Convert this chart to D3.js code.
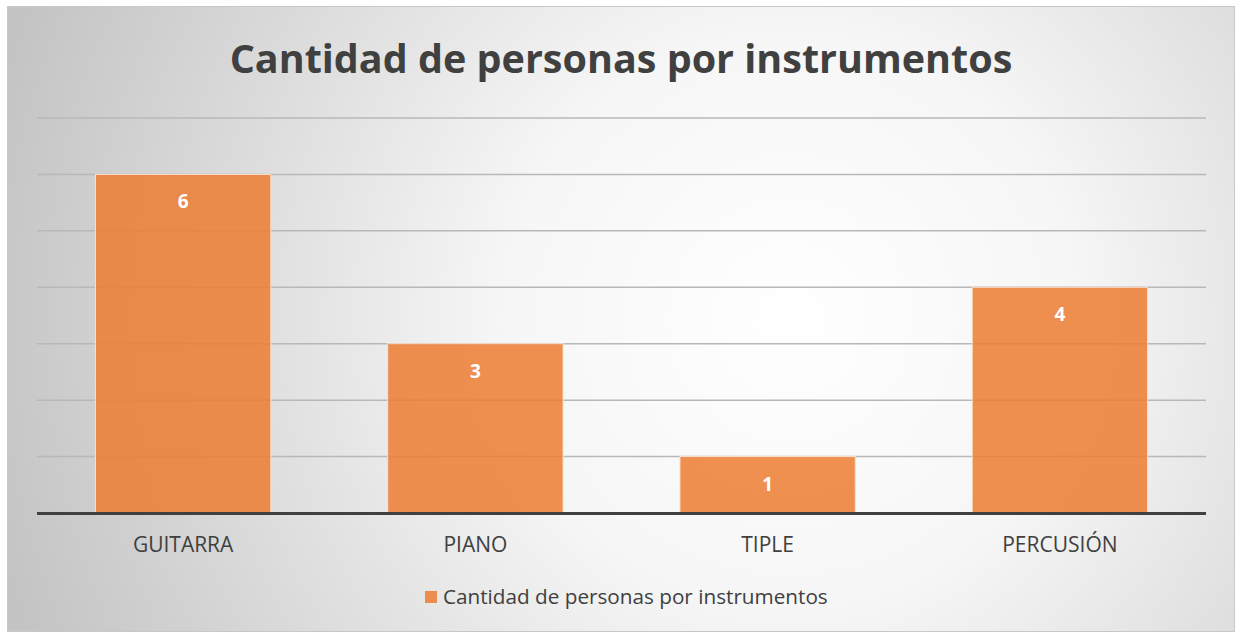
<!DOCTYPE html>
<html><head><meta charset="utf-8">
<script src="https://cdn.jsdelivr.net/npm/d3@7"></script>
<style>html,body{margin:0;padding:0;background:#fff;}svg{display:block;}</style>
</head><body>
<script>
const categories = ["GUITARRA", "PIANO", "TIPLE", "PERCUSIÓN"];
const values = [6, 3, 1, 4];
const yTicks = [0, 1, 2, 3, 4, 5, 6, 7];
const seriesName = "Cantidad de personas por instrumentos";
const title = "Cantidad de personas por instrumentos";

const W = 1235, H = 632;
const svg = d3.select("body").append("svg").attr("width", W).attr("height", H);
const defs = svg.append("defs");
const grad = defs.append("radialGradient").attr("id", "bg")
  .attr("gradientUnits", "userSpaceOnUse")
  .attr("cx", 790).attr("cy", 320).attr("r", 820);
grad.append("stop").attr("offset", "0%").attr("stop-color", "#ffffff");
grad.append("stop").attr("offset", "35%").attr("stop-color", "#f6f6f6");
grad.append("stop").attr("offset", "100%").attr("stop-color", "#c4c4c4");

svg.append("rect").attr("x", 7.5).attr("y", 6.5).attr("width", W - 8).attr("height", H - 7)
  .attr("fill", "url(#bg)").attr("stroke", "#c8c8c8").attr("stroke-width", 1);

const m = {left: 37, right: 1206, top: 118, bottom: 513};
const x = d3.scaleBand().domain(categories).range([m.left, m.right]).paddingInner(0.4).paddingOuter(0.2);
const y = d3.scaleLinear().domain([0, 7]).range([m.bottom, m.top]);

const font = "Open Sans, Noto Sans, sans-serif";

// gridlines
svg.append("g").selectAll("line").data(yTicks.filter(d => d > 0)).join("line")
  .attr("x1", m.left).attr("x2", m.right)
  .attr("y1", d => y(d)).attr("y2", d => y(d))
  .attr("stroke", "#b8b8b8").attr("stroke-width", 1.5);

// bars
svg.append("g").selectAll("rect").data(values).join("rect")
  .attr("x", (d, i) => x(categories[i]))
  .attr("y", d => y(d))
  .attr("width", x.bandwidth())
  .attr("height", d => y(0) - y(d))
  .attr("fill", "#ED7D31").attr("fill-opacity", 0.85)
  .attr("stroke", "#fbe0cc").attr("stroke-width", 1);

// baseline
svg.append("line").attr("x1", m.left).attr("x2", m.right)
  .attr("y1", y(0) + 0.5).attr("y2", y(0) + 0.5)
  .attr("stroke", "#404040").attr("stroke-width", 3);

// value labels
svg.append("g").selectAll("text").data(values).join("text")
  .attr("x", (d, i) => x(categories[i]) + x.bandwidth() / 2)
  .attr("y", d => y(d) + 34)
  .attr("text-anchor", "middle")
  .attr("font-family", font).attr("font-weight", "bold").attr("font-size", 19)
  .attr("fill", "#ffffff").text(d => d);

// x axis labels
const xAxis = d3.axisBottom(x).tickSize(0).tickPadding(0);
const gx = svg.append("g").attr("transform", `translate(0,${y(0)})`).call(xAxis);
gx.select(".domain").remove();
gx.selectAll("text").attr("y", 39).attr("dy", 0)
  .attr("font-family", font).attr("font-size", 21).attr("fill", "#404040");

// title
const t = svg.append("text").attr("x", 621).attr("y", 73).attr("text-anchor", "middle")
  .attr("font-family", font).attr("font-weight", "bold").attr("font-size", 40)
  .attr("fill", "#404040").text(title);
const tl = t.node().getComputedTextLength();
t.attr("font-size", 40 * 783 / tl);

// legend
svg.append("rect").attr("x", 425).attr("y", 591).attr("width", 12).attr("height", 12).attr("fill", "#ED7D31").attr("fill-opacity", 0.85);
const lt = svg.append("text").attr("x", 443).attr("y", 604)
  .attr("font-family", font).attr("font-size", 19).attr("fill", "#404040").text(seriesName);
const ll = lt.node().getComputedTextLength();
lt.attr("font-size", 19 * 385 / ll);
</script>
</body></html>
